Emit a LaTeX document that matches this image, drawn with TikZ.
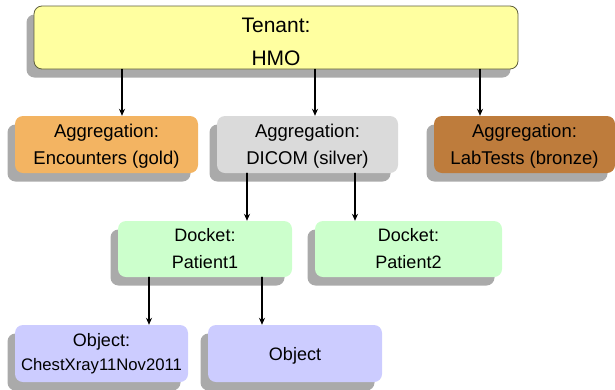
\documentclass[tikz,border=0pt]{standalone}
\usepackage{fontspec}
\setmainfont{Liberation Sans}
\usetikzlibrary{shadows,arrows.meta}

\definecolor{tenantfill}{RGB}{255,255,160}
\definecolor{tenantline}{RGB}{95,95,60}
\definecolor{goldfill}{RGB}{243,180,98}
\definecolor{silverfill}{RGB}{218,218,218}
\definecolor{bronzefill}{RGB}{190,124,60}
\definecolor{docketfill}{RGB}{204,255,204}
\definecolor{objectfill}{RGB}{204,204,255}
\definecolor{shadowgray}{RGB}{170,170,170}

\begin{document}
\begin{tikzpicture}[x=1pt,y=-1pt,line cap=round,line join=round,
    box/.style={rectangle,rounded corners=8pt,align=center,inner sep=0pt,
      font=\fontsize{18}{27}\selectfont,
      drop shadow={shadow xshift=-7.5pt,shadow yshift=-8.5pt,fill=shadowgray,opacity=1}},
    aggr/.style={box,minimum width=181pt,minimum height=57pt,text depth=0pt,
      font=\fontsize{18.5}{27}\selectfont},
    link/.style={line width=1.4pt,-{Stealth[length=7pt,width=6pt]}}]
  \useasboundingbox (0,0) rectangle (615,389);

  % level 0
  \node[box,fill=tenantfill,draw=tenantline,line width=0.8pt,font=\fontsize{21}{33}\selectfont,
    text height=55pt,text depth=0pt,
    minimum width=484pt,minimum height=63pt] (tenant) at (276,37.5) {Tenant:\\HMO};

  % aggregations
  \node[aggr,fill=goldfill,minimum width=183pt] (enc) at (106.5,144.5) {Aggregation:\\Encounters (gold)};
  \node[aggr,fill=silverfill] (dicom) at (307.5,144.5) {Aggregation:\\DICOM (silver)};
  \node[aggr,fill=bronzefill] (lab) at (524.5,144.5) {Aggregation:\\LabTests (bronze)};

  % dockets
  \node[box,fill=docketfill,minimum width=174pt,minimum height=56pt] (pat1) at (205,249) {Docket:\\Patient1};
  \node[box,fill=docketfill,minimum width=187pt,minimum height=56pt] (pat2) at (408.5,249) {Docket:\\Patient2};

  % objects
  \node[box,fill=objectfill,minimum width=173pt,minimum height=57pt] (chest) at (101.5,353.5)
    {Object:\\[-3pt]{\fontsize{16.7}{20}\selectfont ChestXray11Nov2011}};
  \node[box,fill=objectfill,minimum width=174pt,minimum height=57pt,text depth=0pt] (obj) at (295,353.5) {Object};

  \draw[link] (122,0 |- tenant.south) -- (122,0 |- enc.north);
  \draw[link] (315,0 |- tenant.south) -- (315,0 |- dicom.north);
  \draw[link] (480,0 |- tenant.south) -- (480,0 |- lab.north);
  \draw[link] (247,0 |- dicom.south) -- (247,0 |- pat1.north);
  \draw[link] (355,0 |- dicom.south) -- (355,0 |- pat2.north);
  \draw[link] (149,0 |- pat1.south) -- (149,0 |- chest.north);
  \draw[link] (262,0 |- pat1.south) -- (262,0 |- obj.north);
\end{tikzpicture}
\end{document}
